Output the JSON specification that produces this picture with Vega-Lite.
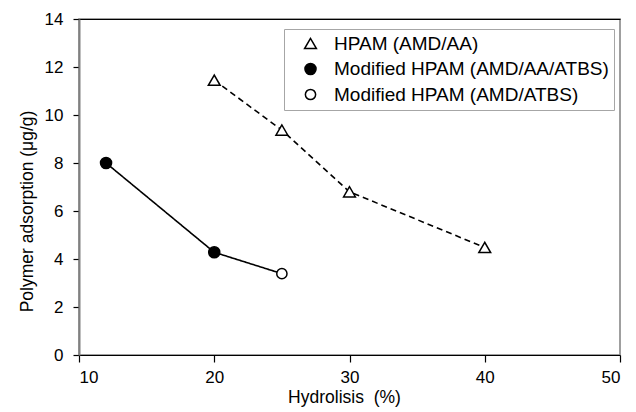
{
  "$schema": "https://vega.github.io/schema/vega-lite/v6.json",
  "width": 541,
  "height": 336,
  "autosize": {"type": "none"},
  "padding": {"left": 79, "top": 19, "right": 16, "bottom": 57},
  "background": "white",
  "config": {
    "font": "Liberation Sans",
    "view": {"stroke": "#808080", "strokeWidth": 1.5},
    "axis": {
      "grid": false,
      "labelFont": "Liberation Sans",
      "labelFontSize": 17,
      "labelColor": "#000",
      "titleFont": "Liberation Sans",
      "titleFontSize": 17.5,
      "titleFontWeight": "normal",
      "titleColor": "#000",
      "tickColor": "#000",
      "tickWidth": 1.2
    }
  },
  "data": {
    "values": [
      {"x": 20, "y": 11.45, "series": "HPAM (AMD/AA)", "line": "HPAM"},
      {"x": 25, "y": 9.37, "series": "HPAM (AMD/AA)", "line": "HPAM"},
      {"x": 30, "y": 6.8, "series": "HPAM (AMD/AA)", "line": "HPAM"},
      {"x": 40, "y": 4.48, "series": "HPAM (AMD/AA)", "line": "HPAM"},
      {"x": 12, "y": 8.0, "series": "Modified HPAM (AMD/AA/ATBS)", "line": "Modified"},
      {"x": 20, "y": 4.28, "series": "Modified HPAM (AMD/AA/ATBS)", "line": "Modified"},
      {"x": 25, "y": 3.39, "series": "Modified HPAM (AMD/ATBS)", "line": "Modified"}
    ]
  },
  "layer": [
    {
      "mark": {"type": "line", "color": "black", "strokeWidth": 1.6},
      "encoding": {
        "x": {
          "field": "x", "type": "quantitative",
          "scale": {"domain": [10, 50]},
          "axis": {"values": [10, 20, 30, 40, 50], "tickSize": 7, "labelPadding": 7, "domainColor": "#000", "domainWidth": 1.2, "title": "Hydrolisis\u00a0 (%)", "titlePadding": 3, "titleX": 265}
        },
        "y": {
          "field": "y", "type": "quantitative",
          "scale": {"domain": [0, 14]},
          "axis": {"values": [0, 2, 4, 6, 8, 10, 12, 14], "tickSize": 6, "labelPadding": 10, "domainColor": "#808080", "domainWidth": 2, "title": "Polymer adsorption (μg/g)", "titleY": 192, "titlePadding": 8}
        },
        "detail": {"field": "line", "type": "nominal"},
        "strokeDash": {"field": "line", "type": "nominal", "scale": {"domain": ["HPAM", "Modified"], "range": [[6, 4], [1, 0]]}, "legend": null}
      }
    },
    {
      "mark": {"type": "point", "filled": true, "strokeWidth": 1.5, "opacity": 1},
      "encoding": {
        "x": {"field": "x", "type": "quantitative", "axis": {"orient": "top", "labels": false, "ticks": false, "title": null, "domainColor": "#000", "domainWidth": 1.2}},
        "y": {"field": "y", "type": "quantitative"},
        "size": {
          "field": "series", "type": "nominal",
          "scale": {"domain": ["HPAM (AMD/AA)", "Modified HPAM (AMD/AA/ATBS)", "Modified HPAM (AMD/ATBS)"], "range": [140, 105, 90]},
          "legend": {
            "title": null, "orient": "none", "legendX": 205, "legendY": 10, "padding": 5, "rowPadding": 5.5,
            "symbolOffset": 12, "labelOffset": 14, "labelFontSize": 19, "labelFont": "Liberation Sans", "labelColor": "#000",
            "strokeColor": "#a6a6a6", "fillColor": "white", "symbolSize": 100, "symbolStrokeWidth": 1.5, "labelLimit": 400
          }
        },
        "shape": {
          "field": "series", "type": "nominal",
          "scale": {"domain": ["HPAM (AMD/AA)", "Modified HPAM (AMD/AA/ATBS)", "Modified HPAM (AMD/ATBS)"], "range": ["triangle-up", "circle", "circle"]},
          "legend": {
            "title": null, "orient": "none", "legendX": 205, "legendY": 10, "padding": 5, "rowPadding": 5.5,
            "symbolOffset": 12, "labelOffset": 14, "labelFontSize": 19, "labelFont": "Liberation Sans", "labelColor": "#000",
            "strokeColor": "#a6a6a6", "fillColor": "white", "symbolSize": 100, "symbolStrokeWidth": 1.5, "labelLimit": 400
          }
        },
        "fill": {
          "field": "series", "type": "nominal",
          "scale": {"domain": ["HPAM (AMD/AA)", "Modified HPAM (AMD/AA/ATBS)", "Modified HPAM (AMD/ATBS)"], "range": ["white", "black", "white"]},
          "legend": {
            "title": null, "orient": "none", "legendX": 205, "legendY": 10, "padding": 5, "rowPadding": 5.5,
            "symbolOffset": 12, "labelOffset": 14, "labelFontSize": 19, "labelFont": "Liberation Sans", "labelColor": "#000",
            "strokeColor": "#a6a6a6", "fillColor": "white", "symbolSize": 100, "symbolStrokeWidth": 1.5, "labelLimit": 400
          }
        },
        "stroke": {
          "field": "series", "type": "nominal",
          "scale": {"domain": ["HPAM (AMD/AA)", "Modified HPAM (AMD/AA/ATBS)", "Modified HPAM (AMD/ATBS)"], "range": ["black", "black", "black"]},
          "legend": {
            "title": null, "orient": "none", "legendX": 205, "legendY": 10, "padding": 5, "rowPadding": 5.5,
            "symbolOffset": 12, "labelOffset": 14, "labelFontSize": 19, "labelFont": "Liberation Sans", "labelColor": "#000",
            "strokeColor": "#a6a6a6", "fillColor": "white", "symbolSize": 100, "symbolStrokeWidth": 1.5, "labelLimit": 400
          }
        }
      }
    }
  ],
  "resolve": {"axis": {"x": "independent"}}
}
